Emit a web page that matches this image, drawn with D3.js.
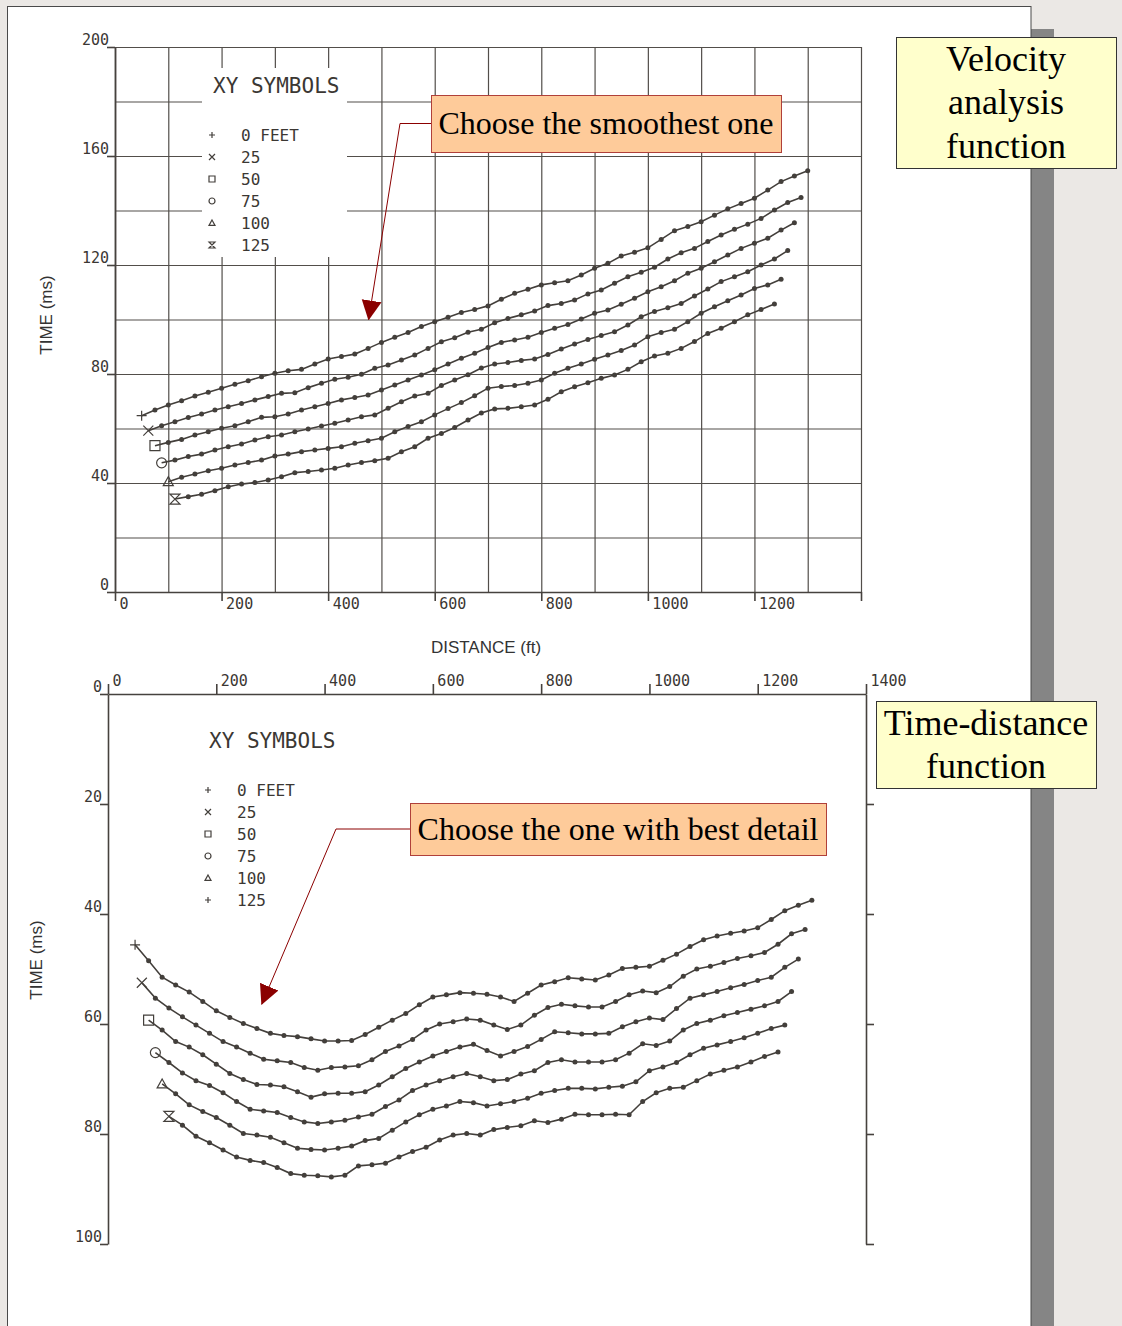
<!DOCTYPE html>
<meta charset="utf-8">
<style>
body { margin: 0; background: #ebe8e5; }
svg { display: block; }
.plot text { font-family: "DejaVu Sans Mono", monospace; fill: #3b3733; }
.grid line, .grid path { stroke: #524e4a; stroke-width: 1.2; }
.axis line, .axis path { stroke: #46423e; stroke-width: 1.6; }
.title { font-family: "Liberation Sans", Arial, sans-serif; font-size: 17px; fill: #333; }
.note { font-family: "Liberation Serif", "Times New Roman", serif; fill: #000; }
.curve { fill: none; stroke: #433f3b; stroke-width: 1.6; }
.dot { fill: #433f3b; }
.sym { fill: none; stroke: #433f3b; stroke-width: 1.2; }
</style>
<body>
<svg width="1122" height="1326"></svg>
<script src="https://d3js.org/d3.v7.min.js"></script>
<script>

// legend: receiver offsets
var offsets = ["0 FEET", "25", "50", "75", "100", "125"];
var step = 25; // ft between picks

// ---- velocity analysis function (top) : time in ms, first pick distance per curve
var vaStart = [50, 62.5, 75, 87.5, 100, 112.5];
var va0 = [64.7, 66.8, 68.6, 70.2, 71.9, 73.3, 74.8, 76.2, 77.5, 79.0, 80.3, 81.2, 81.7, 83.7, 85.5, 86.4, 87.3, 89.4, 91.6, 93.5, 95.2, 97.4, 99.2, 100.8, 102.6, 103.7, 105.0, 107.4, 109.6, 111.1, 112.7, 113.5, 114.2, 116.3, 118.8, 120.6, 123.3, 124.7, 126.3, 129.4, 132.6, 134.1, 135.9, 138.3, 140.6, 142.6, 144.5, 147.5, 150.6, 152.7, 154.6];
var va1 = [59.2, 61.0, 62.5, 64.0, 65.3, 66.8, 68.0, 69.2, 70.5, 71.7, 72.9, 73.1, 75.0, 76.6, 78.1, 78.8, 79.9, 82.1, 83.3, 85.1, 87.0, 89.4, 91.8, 93.3, 95.3, 96.4, 98.8, 100.4, 101.7, 103.1, 105.1, 105.9, 107.2, 109.4, 110.8, 113.3, 115.7, 117.3, 119.2, 122.2, 124.5, 126.1, 128.6, 131.0, 133.1, 135.0, 137.1, 140.2, 142.9, 144.8];
var va2 = [53.7, 54.9, 56.0, 57.6, 58.8, 60.1, 61.0, 62.5, 64.1, 64.3, 65.3, 66.8, 68.0, 69.2, 70.5, 71.4, 72.3, 74.1, 76.0, 77.8, 79.6, 81.6, 83.7, 85.8, 87.6, 89.7, 91.6, 92.5, 93.5, 95.2, 96.8, 98.2, 100.2, 102.3, 103.5, 105.6, 107.8, 110.2, 112.0, 114.2, 117.0, 118.8, 121.2, 123.7, 126.1, 128.0, 129.8, 132.8, 135.5];
var va3 = [47.4, 48.4, 49.7, 50.6, 52.1, 53.3, 54.3, 55.8, 57.0, 57.6, 58.8, 59.8, 60.9, 61.9, 63.1, 64.3, 65.0, 67.4, 69.8, 71.9, 72.9, 75.8, 77.8, 79.7, 82.2, 83.7, 84.2, 85.0, 85.5, 87.2, 89.2, 91.0, 92.7, 94.1, 95.5, 98.0, 101.0, 102.9, 104.3, 105.9, 108.6, 111.2, 113.9, 115.7, 117.5, 120.0, 122.2, 125.3];
var va4 = [40.5, 42.1, 43.3, 44.5, 45.4, 46.6, 47.5, 48.4, 49.9, 50.6, 51.5, 52.1, 52.7, 53.3, 54.6, 55.5, 56.4, 58.8, 60.7, 62.5, 65.0, 67.3, 69.5, 72.0, 74.8, 75.4, 75.8, 76.6, 77.8, 80.3, 82.1, 83.7, 85.4, 87.0, 88.6, 90.6, 93.7, 95.2, 96.4, 99.2, 102.3, 104.7, 106.9, 109.0, 111.4, 112.7, 114.8];
var va5 = [34.1, 35.0, 35.9, 37.2, 38.6, 39.6, 40.2, 41.1, 42.3, 43.8, 44.2, 44.8, 45.4, 46.6, 47.5, 48.2, 49.1, 51.5, 53.3, 56.4, 58.2, 60.4, 63.1, 65.7, 67.2, 67.4, 68.0, 68.6, 70.7, 73.5, 75.3, 76.8, 78.4, 79.6, 81.7, 84.5, 86.6, 87.6, 89.4, 91.9, 94.9, 96.8, 99.2, 101.7, 103.7, 105.7];

// ---- time-distance function (bottom)
var tdStart = [50, 62.5, 75, 87.5, 100, 112.5];
var td0 = [45.6, 48.5, 51.5, 52.9, 54.2, 55.9, 57.6, 58.8, 59.9, 60.8, 61.7, 62.1, 62.3, 62.7, 63.1, 63.1, 63.0, 61.9, 60.6, 59.3, 58.1, 56.5, 55.1, 54.7, 54.3, 54.4, 54.6, 55.1, 55.9, 54.4, 52.9, 52.3, 51.6, 51.8, 52.0, 51.1, 49.9, 49.7, 49.5, 48.4, 47.3, 45.9, 44.7, 44.0, 43.5, 43.1, 42.5, 41.0, 39.4, 38.4, 37.5];
var td1 = [52.5, 55.3, 57.1, 58.7, 60.2, 61.7, 63.2, 64.2, 65.3, 66.4, 66.7, 67.0, 67.9, 68.4, 67.9, 67.8, 67.6, 66.5, 65.0, 64.0, 62.8, 61.1, 60.0, 59.6, 59.1, 59.3, 60.2, 61.0, 60.2, 58.4, 57.0, 56.4, 56.7, 56.9, 56.9, 55.9, 54.7, 54.0, 54.3, 53.2, 51.3, 50.0, 49.5, 48.8, 48.1, 47.6, 47.0, 45.5, 43.6, 42.8];
var td2 = [59.3, 61.1, 63.2, 64.2, 65.6, 67.3, 69.0, 70.1, 71.0, 71.1, 71.4, 72.3, 73.3, 72.7, 72.6, 72.6, 72.3, 71.1, 69.6, 68.1, 66.9, 65.8, 65.0, 64.2, 63.7, 64.8, 65.8, 65.0, 64.1, 62.8, 61.4, 61.6, 61.8, 61.8, 61.7, 60.5, 59.6, 58.9, 59.2, 57.2, 55.3, 54.7, 54.1, 53.4, 52.8, 52.1, 51.5, 49.7, 48.2];
var td3 = [65.2, 67.0, 68.9, 70.3, 71.2, 72.5, 74.1, 75.5, 75.8, 76.1, 77.0, 77.8, 78.1, 77.8, 77.5, 76.9, 76.4, 75.0, 73.8, 72.1, 71.1, 70.3, 69.6, 69.0, 69.6, 70.3, 70.1, 69.1, 68.5, 67.0, 66.5, 66.9, 66.9, 66.9, 66.5, 65.3, 63.6, 63.9, 63.1, 61.1, 59.9, 59.3, 58.5, 57.9, 57.3, 56.7, 55.9, 54.1];
var td4 = [70.9, 72.7, 74.7, 75.9, 77.0, 78.4, 79.9, 80.2, 80.6, 81.6, 82.6, 82.8, 82.9, 82.6, 82.2, 81.2, 80.8, 79.3, 77.8, 76.5, 75.5, 74.9, 74.1, 74.3, 74.9, 74.5, 74.1, 73.5, 72.6, 72.1, 71.7, 71.7, 71.8, 71.5, 71.3, 70.5, 68.5, 67.8, 67.0, 65.6, 64.4, 63.8, 63.2, 62.5, 61.7, 60.8, 60.2];
var td5 = [76.8, 78.4, 80.4, 81.6, 82.9, 84.2, 84.8, 85.2, 86.1, 87.2, 87.5, 87.6, 87.8, 87.5, 85.8, 85.6, 85.3, 84.2, 83.2, 82.4, 81.1, 80.2, 79.9, 80.2, 79.2, 78.8, 78.5, 77.6, 77.9, 77.3, 76.4, 76.5, 76.5, 76.4, 76.5, 74.1, 72.5, 71.7, 71.5, 70.3, 69.1, 68.4, 67.8, 66.9, 65.9, 65.1];

var vaSymbols = ["plus", "cross", "square", "circle", "triangle", "hourglass"];
var tdLegendSymbols = ["plus", "cross", "square", "circle", "triangle", "plus"];

function toPoints(series, starts) {
  return series.map(function(vals, k) {
    return vals.map(function(t, i) { return {d: starts[k] + step * i, t: t}; });
  });
}

function sym(kind, r) {
  switch (kind) {
    case "plus": return "M" + (-r) + ",0H" + r + "M0," + (-r) + "V" + r;
    case "cross": return "M" + (-r) + "," + (-r) + "L" + r + "," + r + "M" + (-r) + "," + r + "L" + r + "," + (-r);
    case "square": return "M" + (-r) + "," + (-r) + "H" + r + "V" + r + "H" + (-r) + "Z";
    case "circle": return "M" + r + ",0A" + r + "," + r + " 0 1,1 " + (-r) + ",0A" + r + "," + r + " 0 1,1 " + r + ",0Z";
    case "triangle": return "M0," + (-r) + "L" + r + "," + (r * 0.8) + "H" + (-r) + "Z";
    case "hourglass": return "M" + (-r) + "," + (-r) + "H" + r + "L" + (-r) + "," + r + "H" + r + "Z";
  }
}

var svg = d3.select("svg");
var fmt = d3.format("d");

// slide page + shadow
svg.append("rect").attr("x", 1031).attr("y", 29).attr("width", 23).attr("height", 1300).attr("fill", "#858585");
svg.append("rect").attr("x", 7.5).attr("y", 6.5).attr("width", 1023.5).attr("height", 1330)
  .attr("fill", "#fff").attr("stroke", "#4a4a4a");

var defs = svg.append("defs");
defs.append("marker").attr("id", "arrow")
  .attr("viewBox", "0 0 20 20").attr("refX", 19).attr("refY", 10)
  .attr("markerWidth", 20).attr("markerHeight", 21).attr("markerUnits", "userSpaceOnUse")
  .attr("orient", "auto")
  .append("path").attr("d", "M0,0L20,10L0,20Z").attr("fill", "#8b0000");

function drawCurves(g, pts, x, y, symbols, r) {
  var line = d3.line().x(function(d) { return x(d.d); }).y(function(d) { return y(d.t); });
  var c = g.selectAll(".c").data(pts).enter().append("g");
  c.append("path").attr("class", "curve").attr("d", line);
  c.selectAll("circle").data(function(d) { return d.slice(1); }).enter().append("circle")
    .attr("class", "dot").attr("r", 2.5)
    .attr("cx", function(d) { return x(d.d); })
    .attr("cy", function(d) { return y(d.t); });
  c.append("path").attr("class", "sym")
    .attr("transform", function(d) { return "translate(" + x(d[0].d) + "," + y(d[0].t) + ")"; })
    .attr("d", function(d, k) { return sym(symbols[k], r); });
}

function drawLegend(g, x0, y0, symbols) {
  g.append("text").attr("x", x0 + 1).attr("y", y0).style("font-size", "21px").text("XY SYMBOLS");
  var rows = g.selectAll(".lg").data(offsets).enter().append("g")
    .attr("transform", function(d, i) { return "translate(" + x0 + "," + (y0 + 42 + i * 22) + ")"; });
  rows.append("path").attr("class", "sym").attr("d", function(d, i) { return sym(symbols[i], 3); });
  rows.append("text").attr("x", 29).attr("y", 6).style("font-size", "16px").text(function(d) { return d; });
}

// ================= TOP: velocity analysis function =================
var x1 = d3.scaleLinear().domain([0, 1400]).range([115, 861]);
var y1 = d3.scaleLinear().domain([0, 200]).range([592, 47]);
var topG = svg.append("g").attr("class", "plot");

topG.append("g").attr("class", "grid")
  .attr("transform", "translate(0," + y1(0) + ")")
  .call(d3.axisBottom(x1).tickValues(d3.range(0, 1401, 100)).tickSize(y1(200) - y1(0)).tickSizeOuter(0).tickFormat(""));
topG.append("g").attr("class", "grid")
  .attr("transform", "translate(" + x1(0) + ",0)")
  .call(d3.axisLeft(y1).tickValues(d3.range(0, 201, 20)).tickSize(x1(0) - x1(1400)).tickSizeOuter(0).tickFormat(""));

var xa1 = topG.append("g").attr("class", "axis")
  .attr("transform", "translate(0," + y1(0) + ")")
  .call(d3.axisBottom(x1).tickValues(d3.range(0, 1401, 200)).tickSize(9).tickSizeOuter(0)
    .tickFormat(function(d) { return d === 1400 ? "" : fmt(d); }));
xa1.selectAll("text").attr("x", 4).attr("y", 12).attr("dy", "0.35em").attr("text-anchor", "start").style("font-size", "15px");

var ya1 = topG.append("g").attr("class", "axis")
  .attr("transform", "translate(" + x1(0) + ",0)")
  .call(d3.axisLeft(y1).tickValues(d3.range(0, 201, 40)).tickSize(8).tickSizeOuter(0).tickFormat(fmt));
ya1.selectAll("text").attr("x", -6).attr("y", -3).attr("dy", 0).style("font-size", "15px");

// legend cut-out in the grid
topG.append("rect").attr("x", 202).attr("y", 68).attr("width", 145).attr("height", 189).attr("fill", "#fff");
drawLegend(topG, 212, 93, vaSymbols);

drawCurves(topG, toPoints([va0, va1, va2, va3, va4, va5], vaStart), x1, y1, vaSymbols, 5);

svg.append("text").attr("class", "title").attr("text-anchor", "middle")
  .attr("transform", "translate(52,315) rotate(-90)").text("TIME (ms)");
svg.append("text").attr("class", "title").attr("text-anchor", "middle")
  .attr("x", 486).attr("y", 653).text("DISTANCE (ft)");

// ================= BOTTOM: time-distance function =================
var x2 = d3.scaleLinear().domain([0, 1400]).range([108, 866]);
var y2 = d3.scaleLinear().domain([0, 100]).range([694, 1244]);
var botG = svg.append("g").attr("class", "plot");

var xa2 = botG.append("g").attr("class", "axis")
  .attr("transform", "translate(0," + y2(0) + ")")
  .call(d3.axisTop(x2).tickValues(d3.range(0, 1401, 200)).tickSize(10).tickSizeOuter(0).tickFormat(fmt));
xa2.selectAll("text").attr("x", 4).attr("y", -8).attr("dy", 0).attr("text-anchor", "start").style("font-size", "15px");

var ya2 = botG.append("g").attr("class", "axis")
  .attr("transform", "translate(" + x2(0) + ",0)")
  .call(d3.axisLeft(y2).tickValues(d3.range(0, 101, 20)).tickSize(8).tickSizeOuter(0).tickFormat(fmt));
ya2.selectAll("text").attr("x", -6).attr("y", -3).attr("dy", 0).style("font-size", "15px");

botG.append("g").attr("class", "axis")
  .attr("transform", "translate(" + x2(1400) + ",0)")
  .call(d3.axisRight(y2).tickValues(d3.range(20, 101, 20)).tickSize(8).tickSizeOuter(0).tickFormat(""));

drawLegend(botG, 208, 748, tdLegendSymbols);
drawCurves(botG, toPoints([td0, td1, td2, td3, td4, td5], tdStart), x2, y2, vaSymbols, 5);

svg.append("text").attr("class", "title").attr("text-anchor", "middle")
  .attr("transform", "translate(42,960) rotate(-90)").text("TIME (ms)");

// ================= annotations =================
var notes = [
  {x: 431, y: 95, w: 350, h: 57, lines: ["Choose the smoothest one"], size: 32, fill: "#fecb9a", stroke: "#b0403a",
   arrow: {elbow: 400, tip: [x1(476), y1(100)]}},
  {x: 410, y: 803, w: 416, h: 52, lines: ["Choose the one with best detail"], size: 32, fill: "#fecb9a", stroke: "#b0403a",
   arrow: {elbow: 336, tip: [x2(284), y2(56.4)]}},
  {x: 896, y: 37, w: 220, h: 131, lines: ["Velocity", "analysis", "function"], size: 36, fill: "#ffffcc", stroke: "#333"},
  {x: 876, y: 701, w: 220, h: 87, lines: ["Time-distance", "function"], size: 36, fill: "#ffffcc", stroke: "#333"}
];

notes.forEach(function(n) {
  if (n.arrow) {
    var my = n.y + n.h / 2;
    svg.append("path")
      .attr("d", "M" + n.x + "," + my + "H" + n.arrow.elbow + "L" + n.arrow.tip[0] + "," + n.arrow.tip[1])
      .attr("fill", "none").attr("stroke", "#8b0000").attr("stroke-width", 1)
      .attr("marker-end", "url(#arrow)");
  }
  svg.append("rect").attr("x", n.x + 0.5).attr("y", n.y + 0.5).attr("width", n.w).attr("height", n.h)
    .attr("fill", n.fill).attr("stroke", n.stroke).attr("stroke-width", 1);
  var lh = 43.5;
  var first = n.y + n.h / 2 - (n.lines.length - 1) * lh / 2 + n.size * 0.33;
  n.lines.forEach(function(s, i) {
    svg.append("text").attr("class", "note").attr("text-anchor", "middle")
      .attr("x", n.x + n.w / 2).attr("y", first + i * lh)
      .style("font-size", n.size + "px").text(s);
  });
});

</script>
</body>
